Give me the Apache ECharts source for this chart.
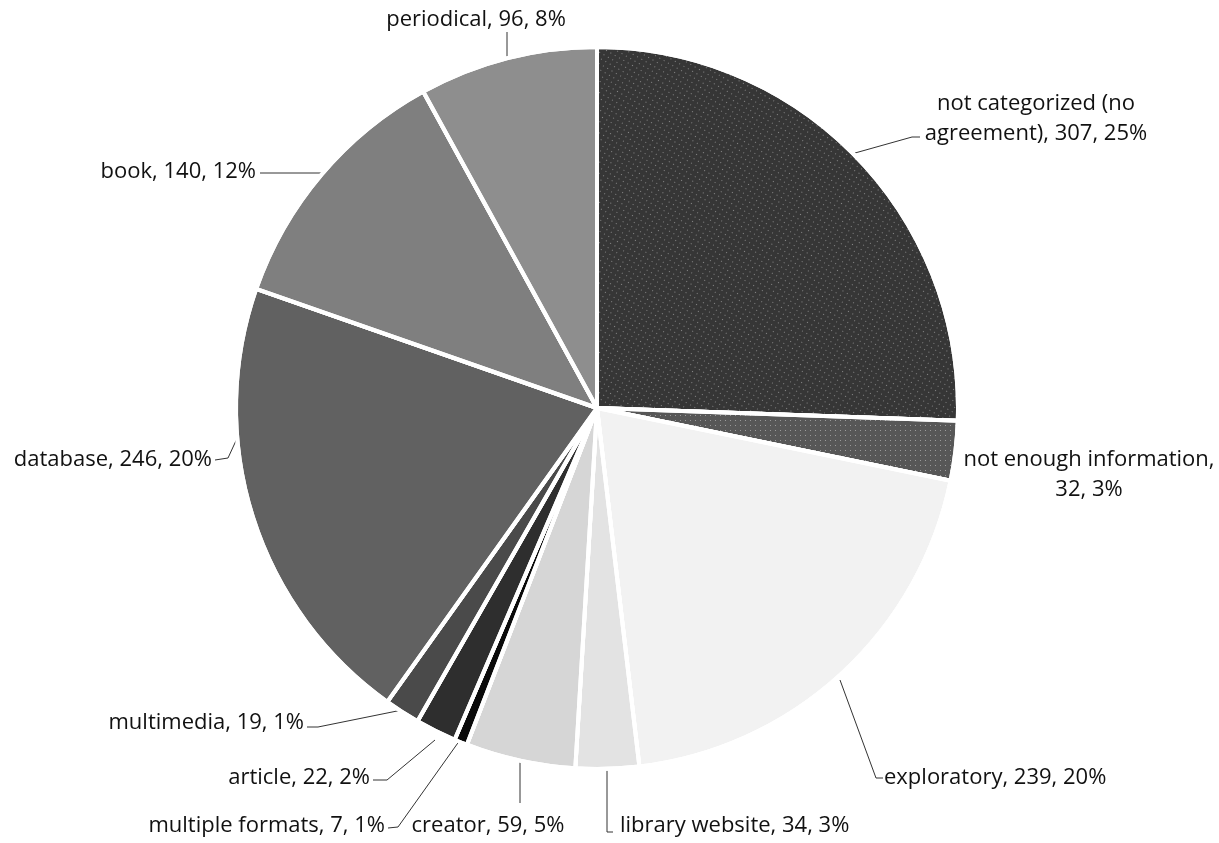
<!DOCTYPE html>
<html>
<head>
<meta charset="utf-8">
<script src="https://cdn.jsdelivr.net/npm/echarts@6/dist/echarts.min.js"></script>
<style>html,body{margin:0;padding:0;background:#fff;}#c{width:1219px;height:843px;}</style>
</head>
<body>
<div id="c"></div>
<script>
const categories = ["not categorized (no agreement)", "not enough information", "exploratory", "library website", "creator", "multiple formats", "article", "multimedia", "database", "book", "periodical"];
const values = [307, 32, 239, 34, 59, 7, 22, 19, 246, 140, 96];
const colors = ["#363636", "#575757", "#f2f2f2", "#e3e3e3", "#d6d6d6", "#0a0a0a", "#2e2e2e", "#4a4a4a", "#616161", "#7f7f7f", "#8e8e8e"];
const dotted = [true, true, false, false, false, false, false, false, false, false, false];

const chart = echarts.init(document.getElementById('c'), null, {renderer: 'canvas'});

const labelPos = [
  {x: 1036, y: 119, align: 'center', pts: [[855,153],[912,137],[920,137]]},
  {x: 1089, y: 475, align: 'center', pts: null},
  {x: 884, y: 778, align: 'left', pts: [[840,680],[876,778],[883,778]]},
  {x: 620, y: 826, align: 'left', pts: [[607,768],[607,832],[613,832]]},
  {x: 488, y: 826, align: 'center', pts: [[520,760],[520,803]]},
  {x: 385, y: 826, align: 'right', pts: [[460,740],[398,827],[388,828]]},
  {x: 370, y: 778, align: 'right', pts: [[435,740],[387,780],[373,780]]},
  {x: 304, y: 723, align: 'right', pts: [[402,710],[318,727],[307,727]]},
  {x: 212, y: 460, align: 'right', pts: [[240,432],[228,458],[215,460]]},
  {x: 256, y: 172, align: 'right', pts: [[321,173],[260,173]]},
  {x: 476, y: 20, align: 'center', pts: [[507,58],[507,32]]}
];

const data = categories.map((n, i) => ({
  name: n,
  value: values[i],
  labelLine: {show: !!labelPos[i].pts},
  itemStyle: {
    color: colors[i],
    decal: dotted[i] ? {
      symbol: 'rect', symbolSize: 1,
      dashArrayX: [1, 4], dashArrayY: [1, 4],
      color: 'rgba(255,255,255,0.4)'
    } : {symbol: 'none', color: 'rgba(0,0,0,0)'}
  }
}));

chart.setOption({
  backgroundColor: '#ffffff',
  aria: {enabled: true, label: {enabled: false}, decal: {show: true}},
  series: [{
    type: 'pie',
    center: [597, 408],
    radius: 361,
    startAngle: 90,
    clockwise: true,
    percentPrecision: 0,
    animation: false,
    avoidLabelOverlap: false,
    data: data,
    itemStyle: {
      borderColor: '#ffffff',
      borderWidth: 4
    },
    label: {
      show: true,
      position: 'outside',
      fontFamily: 'Open Sans',
      fontSize: 22,
      color: '#111',
      lineHeight: 30,
      formatter: function (p) {
        let t = p.name + ', ' + p.value + ', ' + p.percent + '%';
        if (p.dataIndex === 0) t = t.replace('(no ', '(no\n');
        if (p.dataIndex === 1) t = t.replace('information, ', 'information,\n');
        return t;
      }
    },
    labelLine: {
      show: true,
      lineStyle: {color: '#333', width: 1}
    },
    labelLayout: function (params) {
      const l = labelPos[params.dataIndex];
      const r = {x: l.x, y: l.y, align: l.align, verticalAlign: 'middle', hideOverlap: false, moveOverlap: 'none'};
      if (l.pts) r.labelLinePoints = l.pts;
      return r;
    }
  }]
});
</script>
</body>
</html>
